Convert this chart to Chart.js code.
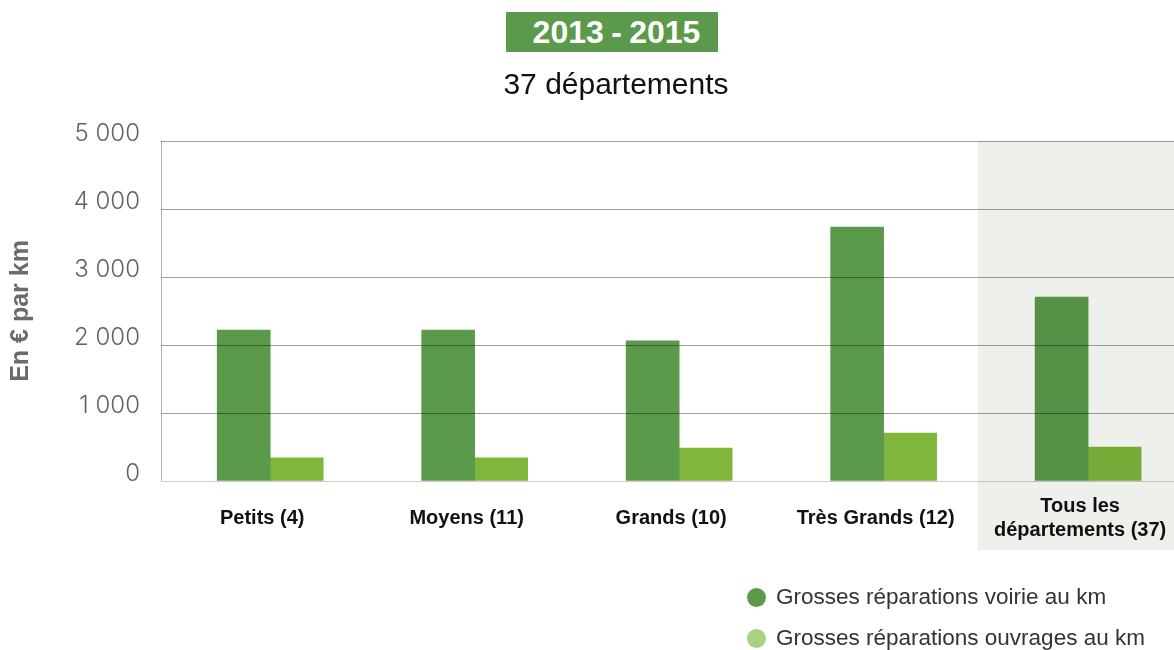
<!DOCTYPE html>
<html lang="fr">
<head>
<meta charset="utf-8">
<title>Grosses réparations 2013 - 2015</title>
<script src="https://cdn.jsdelivr.net/npm/chart.js@4.4.0/dist/chart.umd.min.js"></script>
<style>
    html, body {
        margin: 0;
        padding: 0;
        background: #ffffff;
    }
    #wrap {
        position: relative;
        width: 1174px;
        height: 650px;
        overflow: hidden;
        font-family: "Liberation Sans", Arial, sans-serif;
    }
    #chart {
        position: absolute;
        left: 0;
        top: 0;
    }
    #period {
        position: absolute;
        left: 506px;
        top: 12px;
        width: 212px;
        height: 40px;
        line-height: 41px;
        background: #5c9a4b;
        color: #ffffff;
        font-weight: bold;
        font-size: 32px;
        word-spacing: -1.5px;
        text-indent: 9px;
        text-align: center;
    }
    #subtitle {
        position: absolute;
        left: 416px;
        width: 400px;
        top: 67px;
        text-align: center;
        font-size: 30px;
        color: #111111;
    }
    #legend {
        position: absolute;
        left: 747px;
        top: 584px;
        font-size: 22.5px;
        color: #333333;
    }
    #legend div {
        height: 41px;
        line-height: 26px;
    }
    #legend span.dot {
        display: inline-block;
        width: 19px;
        height: 19px;
        border-radius: 50%;
        margin-right: 10px;
        vertical-align: -3px;
    }
</style>
</head>
<body>
<div id="wrap">
    <canvas id="chart" width="1174" height="650"></canvas>
    <div id="period">2013 - 2015</div>
    <div id="subtitle">37 départements</div>
    <div id="legend"></div>
</div>
<script>
const categories = ['Petits (4)', 'Moyens (11)', 'Grands (10)', 'Très Grands (12)', ['Tous les', 'départements (37)']];
const voirie = [2220, 2220, 2060, 3735, 2705];
const ouvrages = [340, 340, 485, 705, 500];
const yTicks = [0, 1000, 2000, 3000, 4000, 5000];

const seriesNames = ['Grosses réparations voirie au km', 'Grosses réparations ouvrages au km'];
const barColors = ['#5c9a4b', '#80b63c'];
const dotColors = ['#5c9a4b', '#a9d17f'];

// legend is plain html below the chart
const legend = document.getElementById('legend');
seriesNames.forEach((name, i) => {
    legend.innerHTML += `<div><span class="dot" style="background:${dotColors[i]}"></span>${name}</div>`;
});

function toPoints(values) {
    return values.map((v, i) => ({ x: i, y: v }));
}

function formatThousands(v) {
    return String(v).replace(/\B(?=(\d{3})+(?!\d))/g, ' ');
}

// grey band behind the "all departments" group, multiplied over the bars,
// plus the left edge line of the plot
const totalBand = {
    id: 'totalBand',
    afterDatasetsDraw(chart) {
        const ctx = chart.ctx;
        const area = chart.chartArea;
        const x = chart.scales.x.getPixelForValue(3.46);
        ctx.save();
        ctx.globalCompositeOperation = 'multiply';
        ctx.fillStyle = '#eef0ec';
        ctx.fillRect(x, area.top, chart.width - x, 550 - area.top);
        ctx.restore();

        ctx.save();
        ctx.strokeStyle = 'rgba(0,0,0,0.3)';
        ctx.lineWidth = 1;
        ctx.beginPath();
        ctx.moveTo(Math.round(area.left) + 0.5, area.top);
        ctx.lineTo(Math.round(area.left) + 0.5, area.bottom);
        ctx.stroke();
        ctx.restore();
    }
};

const ctx = document.getElementById('chart').getContext('2d');
const myChart = new Chart(ctx, {
    type: 'bar',
    data: {
        datasets: [
            {
                label: seriesNames[0],
                data: toPoints(voirie),
                backgroundColor: barColors[0],
                barThickness: 53
            },
            {
                label: seriesNames[1],
                data: toPoints(ouvrages),
                backgroundColor: barColors[1],
                barThickness: 53
            }
        ]
    },
    options: {
        responsive: false,
        animation: false,
        layout: {
            padding: { top: 141, bottom: 89, left: 0, right: 0 }
        },
        plugins: {
            legend: { display: false },
            title: { display: false },
            tooltip: { enabled: false }
        },
        scales: {
            x: {
                type: 'linear',
                offset: false,
                min: -0.534,
                max: 4.42,
                grid: { display: false },
                border: { display: false },
                afterFit: (scale) => {
                    scale.height = 80;
                    scale.paddingLeft = 0;
                    scale.paddingRight = 0;
                },
                ticks: {
                    stepSize: 1,
                    includeBounds: false,
                    autoSkip: false,
                    maxRotation: 0,
                    labelOffset: -8,
                    padding: 17,
                    crossAlign: 'center',
                    color: '#111111',
                    font: { family: '"Liberation Sans Narrow", "Arial Narrow", sans-serif', weight: 'bold', size: 20, lineHeight: 1.2 },
                    callback: (v) => Number.isInteger(v) ? categories[v] : ''
                }
            },
            y: {
                min: yTicks[0],
                max: yTicks[yTicks.length - 1],
                afterFit: (scale) => { scale.width = 161; },
                afterBuildTicks: (scale) => { scale.ticks = yTicks.map(v => ({ value: v })); },
                grid: {
                    z: 1,
                    drawTicks: false,
                    color: (c) => c.tick && c.tick.value === 0 ? 'rgba(0,0,0,0.2)' : 'rgba(0,0,0,0.37)'
                },
                border: { display: false },
                ticks: {
                    padding: 21,
                    labelOffset: -7,
                    color: '#626262',
                    font: { family: 'Inter, "Liberation Sans", sans-serif', weight: 300, size: 24 },
                    callback: (v) => formatThousands(v)
                },
                title: {
                    display: true,
                    text: 'En € par km',
                    color: '#6b6b6b',
                    padding: { top: 6, bottom: 0 },
                    font: { family: '"Liberation Sans", Arial, sans-serif', weight: 'bold', size: 25 }
                }
            }
        }
    },
    plugins: [totalBand]
});
</script>
</body>
</html>
